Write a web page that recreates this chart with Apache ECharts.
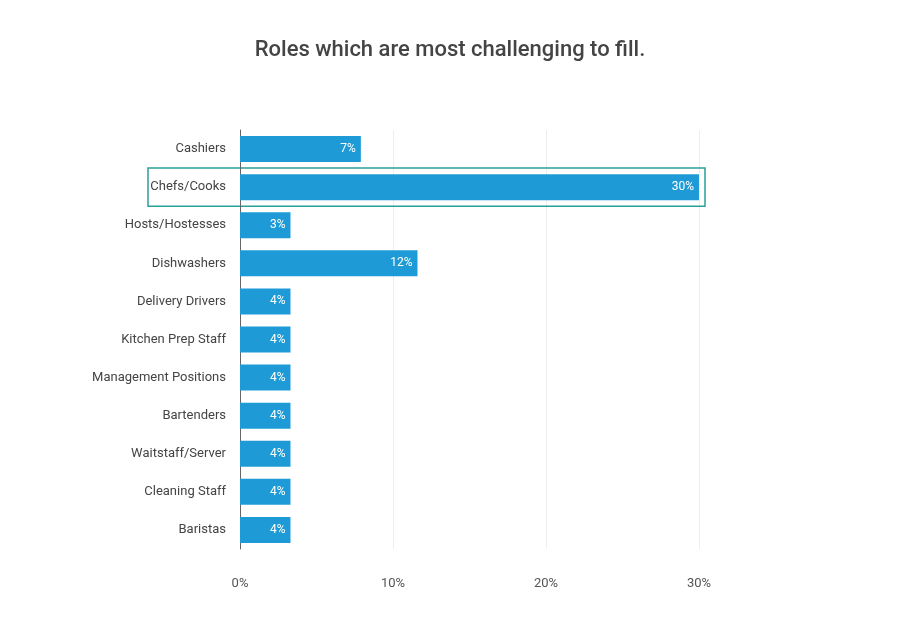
<!DOCTYPE html>
<html>
<head>
<meta charset="utf-8">
<script src="https://cdn.jsdelivr.net/npm/echarts@6/dist/echarts.min.js"></script>
<style>html,body{margin:0;padding:0;background:#fff}#main{width:900px;height:630px}</style>
</head>
<body>
<div id="main"></div>
<script>
var roles = ['Cashiers', 'Chefs/Cooks', 'Hosts/Hostesses', 'Dishwashers', 'Delivery Drivers',
  'Kitchen Prep Staff', 'Management Positions', 'Bartenders', 'Waitstaff/Server', 'Cleaning Staff', 'Baristas'];
var shares = [7.9, 30, 3.3, 11.6, 3.3, 3.3, 3.3, 3.3, 3.3, 3.3, 3.3];
var shareLabels = ['7%', '30%', '3%', '12%', '4%', '4%', '4%', '4%', '4%', '4%', '4%'];
var highlighted = 'Chefs/Cooks';

var myChart = echarts.init(document.getElementById('main'));
var font = 'Roboto, "Noto Sans", sans-serif';

myChart.setOption({
  animation: false,
  textStyle: { fontFamily: font },
  title: {
    text: 'Roles which are most challenging to fill.',
    left: 'center', top: 34,
    textStyle: { fontSize: 22, fontWeight: 500, color: '#444', fontFamily: font }
  },
  grid: { left: 240, right: 201, top: 130, bottom: 81 },
  xAxis: {
    type: 'value', min: 0, max: 30, interval: 10,
    axisLabel: { formatter: '{value}%', color: '#555', fontSize: 13, margin: 28 },
    axisLine: { show: false }, axisTick: { show: false },
    splitLine: { lineStyle: { color: '#eeeeee' } }
  },
  yAxis: {
    type: 'category', data: roles, inverse: true,
    axisLine: { lineStyle: { color: '#666' } }, axisTick: { show: false },
    axisLabel: { color: '#444', fontSize: 13, margin: 14 }
  },
  series: [{
    type: 'bar', data: shares, barWidth: 26,
    itemStyle: { color: '#1e9bd7' },
    label: {
      show: true, position: 'insideRight', color: '#fff', fontSize: 12,
      formatter: function (p) { return shareLabels[p.dataIndex]; }
    }
  }]
});

// outline around the highlighted row
var c = myChart.convertToPixel({ gridIndex: 0 }, [0, highlighted]);
var band = 419 / roles.length;
myChart.setOption({
  graphic: [{
    type: 'rect',
    shape: { x: 148, y: c[1] - band / 2, width: 557, height: band },
    style: { fill: 'none', stroke: '#2aa198', lineWidth: 1.5 }
  }]
});

window.addEventListener('resize', function () { myChart.resize(); });
</script>
</body>
</html>
